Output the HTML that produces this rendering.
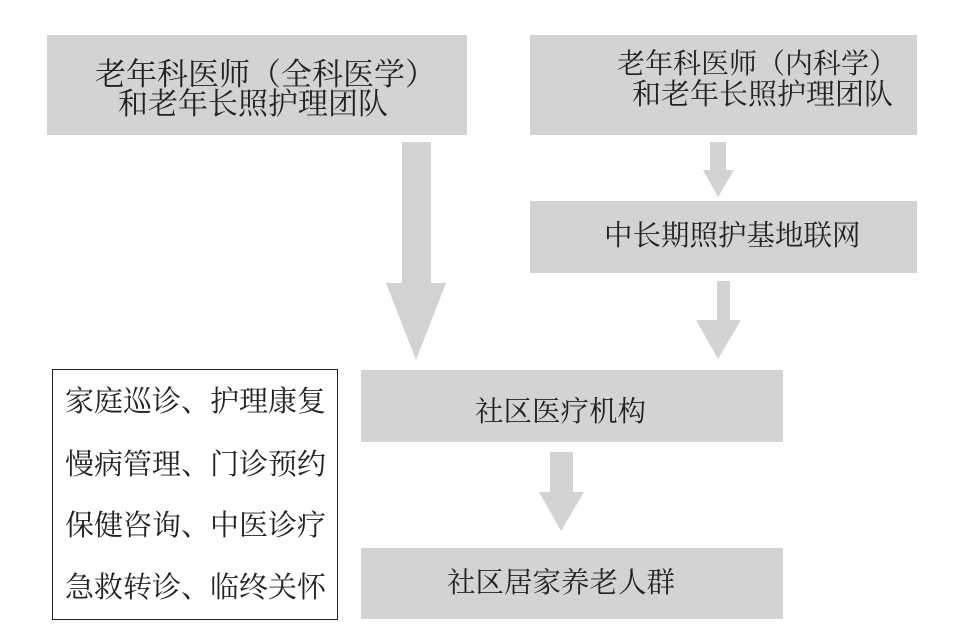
<!DOCTYPE html>
<html><head><meta charset="utf-8"><style>
body{margin:0;width:966px;height:641px;background:#fff;position:relative;overflow:hidden;font-family:"Liberation Serif","Noto Serif CJK SC","Noto Sans CJK SC",serif;color:#222}
.b{position:absolute;background:#d3d3d3}
.t{position:absolute;white-space:nowrap;font-size:28px;line-height:30px}
.p{display:inline-block;width:1em;text-align:center}
.lb{position:absolute;left:52px;top:369px;width:284px;height:249px;border:1.5px solid #222}
.l{position:absolute;left:65px;font-size:29px;line-height:30px;white-space:nowrap}
</style></head><body>
<div class="b" style="left:47px;top:35px;width:420px;height:100px"></div>
<div class="b" style="left:530px;top:35px;width:387px;height:100px"></div>
<div class="b" style="left:530px;top:201px;width:387px;height:72px"></div>
<div class="b" style="left:361px;top:370px;width:422px;height:72px"></div>
<div class="b" style="left:361px;top:548px;width:422px;height:71px"></div>
<svg width="966" height="641" style="position:absolute;left:0;top:0">
<g fill="#d3d3d3">
<rect x="402" y="142" width="29" height="142"/><polygon points="386,283 446,283 416,360"/>
<rect x="710" y="142" width="16" height="29"/><polygon points="703,170 734,170 718,197"/>
<rect x="717" y="281" width="13" height="40"/><polygon points="696,320 741,320 718,359"/>
<rect x="550" y="452" width="23" height="41"/><polygon points="539,492 584,492 561,531"/>
</g></svg>
<div class="t" style="left:95px;top:60px;font-size:31px">老年科医师<span class="p">（</span>全科医学<span class="p">）</span></div>
<div class="t" style="left:118px;top:90px;font-size:30px">和老年长照护理团队</div>
<div class="t" style="left:617px;top:50px">老年科医师<span class="p">（</span>内科学<span class="p">）</span></div>
<div class="t" style="left:632px;top:80px;font-size:29px">和老年长照护理团队</div>
<div class="t" style="left:604px;top:222px;font-size:28.5px">中长期照护基地联网</div>
<div class="t" style="left:475px;top:398px;font-size:28.5px">社区医疗机构</div>
<div class="t" style="left:447px;top:569px;font-size:28.5px">社区居家养老人群</div>
<div class="lb"></div>
<div class="l" style="top:387px">家庭巡诊、护理康复</div>
<div class="l" style="top:450px">慢病管理、门诊预约</div>
<div class="l" style="top:511px">保健咨询、中医诊疗</div>
<div class="l" style="top:573px">急救转诊、临终关怀</div>
</body></html>
